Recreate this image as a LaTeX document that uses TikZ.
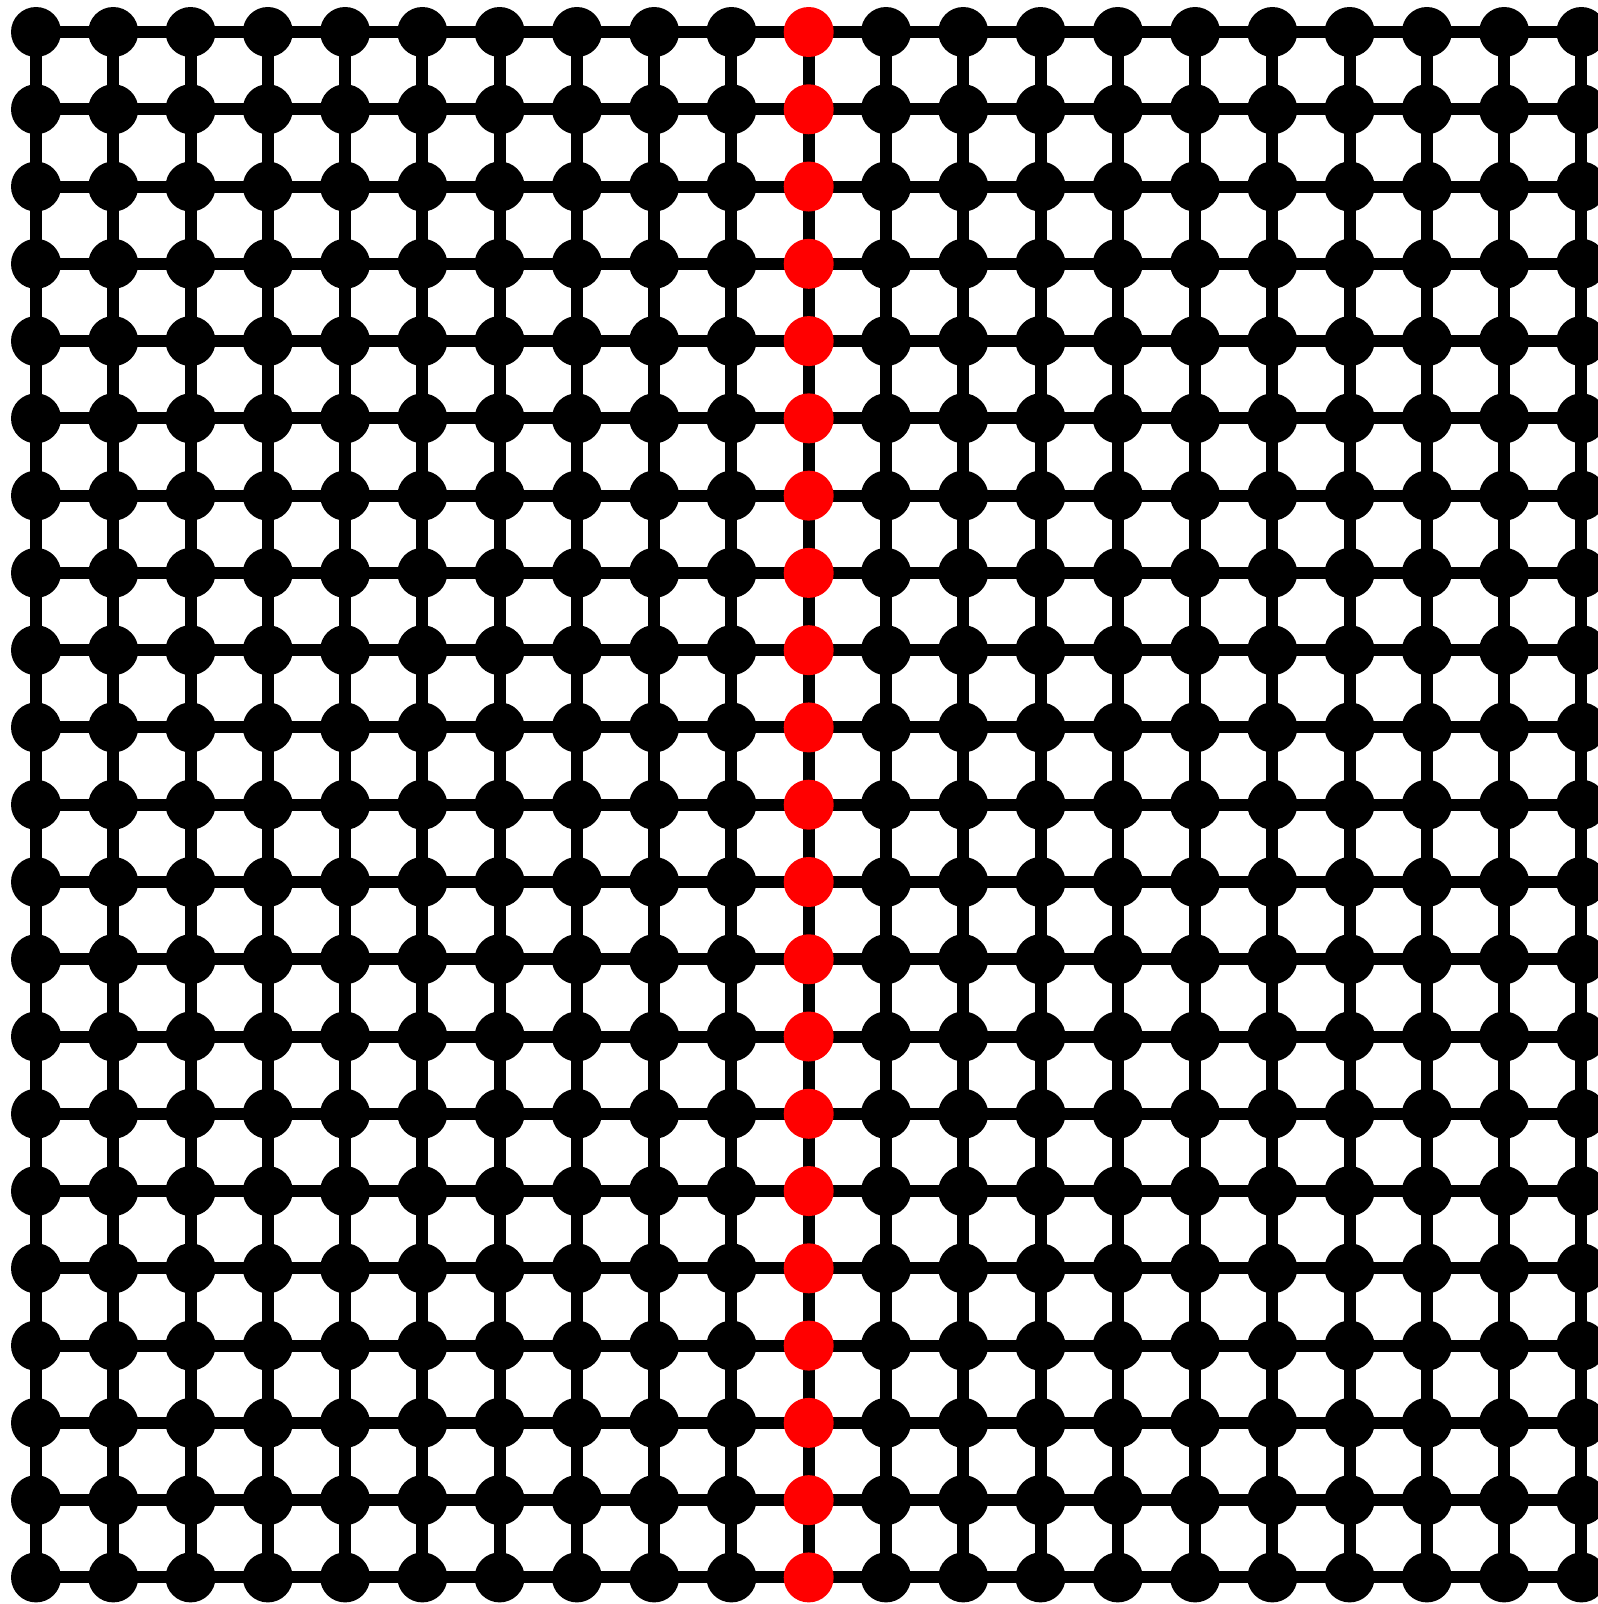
\documentclass[tikz,border=0pt]{standalone}
\pgfdeclarelayer{background}
\pgfsetlayers{background,main}
\begin{document}
\begin{tikzpicture}[x=1pt,y=-1pt,
  vtx/.style={circle,fill=black,draw=none,inner sep=0pt,minimum size=50pt},
  redvtx/.style={vtx,fill=red},
  edge/.style={line width=12pt,draw=black}]
\clip (0,0) rectangle (1598,1604);
\useasboundingbox (0,0) rectangle (1598,1604);
\foreach \i in {0,...,20}{
  \foreach \j in {0,...,20}{
    \ifnum\i=10
      \node[redvtx] (n-\i-\j) at ({36+77.27*\i},{32+77.27*\j}) {};
    \else
      \node[vtx] (n-\i-\j) at ({36+77.27*\i},{32+77.27*\j}) {};
    \fi
  }
}
\begin{pgfonlayer}{background}
\foreach \i in {0,...,20}{
  \foreach \j [evaluate=\j as \k using int(\j+1)] in {0,...,19}{
    \draw[edge] (n-\i-\j.center) -- (n-\i-\k.center);
    \draw[edge] (n-\j-\i.center) -- (n-\k-\i.center);
  }
}
\end{pgfonlayer}
\end{tikzpicture}
\end{document}
